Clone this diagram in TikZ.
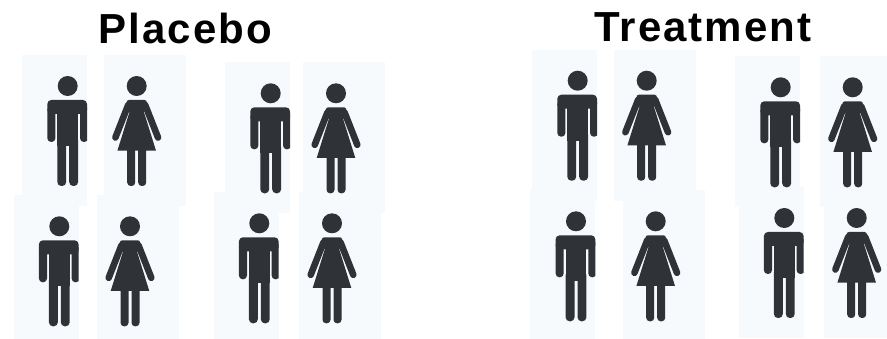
\documentclass[tikz,border=0pt]{standalone}
\usepackage{fontspec}
\newfontfamily\titlefont[LetterSpace=4.8]{Liberation Sans}
\definecolor{panelblue}{HTML}{F6FAFD}
\definecolor{figgray}{HTML}{2F3237}
\def\manlist{67.7/86,270.7/93.3,59.3/226.3,259.3/223.3,577.7/80.7,780.7/87.3,576/221.3,784.3/218}
\def\womanlist{136.7/86,336/93.3,130/226.3,332/223.3,646.7/80.7,852.7/87.3,655.7/221.3,856.7/218}
\tikzset{
  title/.style={font=\titlefont\bfseries\fontsize{42}{46}\selectfont,text=black,inner sep=0pt,anchor=base},
  manpanel/.pic={\fill[panelblue] (-45.7,-31) rectangle (19.3,120);},
  womanpanel/.pic={\fill[panelblue] (-33,-31) rectangle (49,120);},
  man/.pic={
    \begin{scope}
    \clip (-30,-12) rectangle (19.3,104);
    \fill[figgray] (0,0) circle (10);
    \fill[figgray,rounded corners=4pt] (-20.4,14) rectangle (19.3,28);
    \fill[figgray,rounded corners=3.8pt] (-20.4,20) rectangle (-12.3,56);
    \fill[figgray,rounded corners=3.8pt] (12.3,20) rectangle (20.4,56);
    \fill[figgray] (-10.4,20) rectangle (10.4,60);
    \fill[figgray,rounded corners=4pt] (-10.4,50) rectangle (-1.5,100);
    \fill[figgray,rounded corners=4pt] (1.5,50) rectangle (10.4,100);
    \end{scope}
  },
  woman/.pic={
    \fill[figgray] (0,0) circle (10);
    \draw[figgray,line width=6.6pt,line cap=round] (-8.5,19) -- (-21.3,51.5);
    \draw[figgray,line width=6.6pt,line cap=round] (8.5,19) -- (21.3,51.5);
    \fill[figgray,rounded corners=3pt] (-10.8,14) -- (10.8,14) -- (7,28) -- (-7,28) -- cycle;
    \fill[figgray] (-6.6,24) -- (6.6,24) -- (19.3,64.7) -- (-19.3,64.7) -- cycle;
    \fill[figgray,rounded corners=3.5pt] (-9.5,55) rectangle (-1.5,100);
    \fill[figgray,rounded corners=3.5pt] (1.5,55) rectangle (9.5,100);
  }
}
\begin{document}
\begin{tikzpicture}[x=1pt,y=-1pt]
\useasboundingbox (0,0) rectangle (887,339);
% pale panels first, they overlap each other
\foreach \x/\y in \manlist{
  \pic at (\x,\y) {manpanel};
}
\foreach \x/\y in \womanlist{
  \pic at (\x,\y) {womanpanel};
}
% figures
\foreach \x/\y in \manlist{
  \pic at (\x,\y) {man};
}
\foreach \x/\y in \womanlist{
  \pic at (\x,\y) {woman};
}
\node[title] (placebo) at (185.5,43.5) {Placebo};
\node[title] (treatment) at (703,41.7) {Treatment};
\end{tikzpicture}
\end{document}
